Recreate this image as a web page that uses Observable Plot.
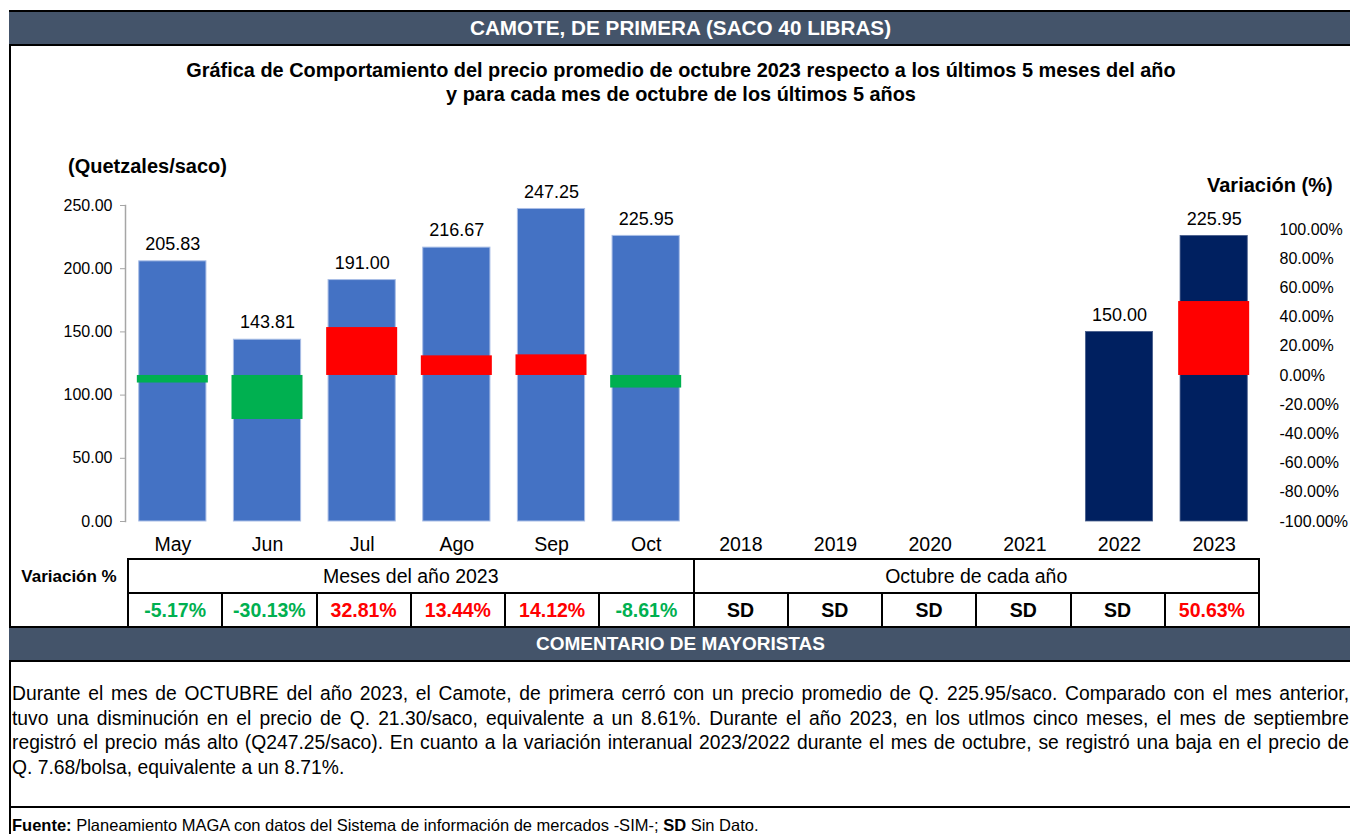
<!DOCTYPE html>
<html><head><meta charset="utf-8">
<script src="https://cdn.jsdelivr.net/npm/d3@7"></script>
<script src="https://cdn.jsdelivr.net/npm/@observablehq/plot@0.6"></script>
<style>
body{margin:0;background:#fff;font-family:"Liberation Sans",Arial,sans-serif;color:#000;}
#page{position:relative;width:1350px;height:834px;overflow:hidden;}
.abs{position:absolute;}
.bar{background:#44546A;color:#fff;font-weight:bold;text-align:center;border-top:2px solid #000;border-bottom:2px solid #000;}
#tbl{position:absolute;left:127px;top:558px;border-collapse:collapse;table-layout:fixed;width:1133px;}
#tbl td{border:2px solid #000;height:32px;line-height:32px;padding:0;text-align:center;font-size:19.5px;white-space:nowrap;overflow:hidden;}
#tbl tr.vals td{font-weight:bold;}
.cl{text-align:justify;text-align-last:justify;}
</style></head><body><div id="page"></div>
<script>
// ---------- data ----------
const months = ["May", "Jun", "Jul", "Ago", "Sep", "Oct"];
const monthPrices = [205.83, 143.81, 191.00, 216.67, 247.25, 225.95];
const monthVar = [-5.17, -30.13, 32.81, 13.44, 14.12, -8.61];
const years = ["2018", "2019", "2020", "2021", "2022", "2023"];
const yearPrices = [null, null, null, null, 150.00, 225.95];
const yearVar = [null, null, null, null, null, 50.63];
const priceTicks = [0, 50, 100, 150, 200, 250];
const varTicks = [-100, -80, -60, -40, -20, 0, 20, 40, 60, 80, 100];

const headerTitle = "CAMOTE, DE PRIMERA (SACO 40 LIBRAS)";
const chartTitle = ["Gráfica de Comportamiento del precio promedio de octubre 2023 respecto a los últimos 5 meses del año",
                    "y para cada mes de octubre de los últimos 5 años"];
const leftAxisTitle = "(Quetzales/saco)";
const rightAxisTitle = "Variación (%)";
const tableRowLabel = "Variación %";
const groupLabels = ["Meses del año 2023", "Octubre de cada año"];
const commentHeader = "COMENTARIO DE MAYORISTAS";
const commentLines = [
  "Durante el mes de OCTUBRE del año 2023, el Camote, de primera cerró con un precio promedio de Q. 225.95/saco. Comparado con el mes anterior,",
  "tuvo una disminución en el precio de Q. 21.30/saco, equivalente a un 8.61%. Durante el año 2023, en los utlmos cinco meses, el mes de septiembre",
  "registró el precio más alto (Q247.25/saco).  En cuanto a la variación interanual 2023/2022 durante el mes de octubre, se registró una baja en el precio de",
  "Q. 7.68/bolsa, equivalente a un 8.71%."
];

// ---------- derived ----------
const cats = [...months, ...years];
const monthData = months.map((c, i) => ({cat: c, price: monthPrices[i], v: monthVar[i]}));
const yearData = years.map((c, i) => ({cat: c, price: yearPrices[i], v: yearVar[i]}));
const allData = [...monthData, ...yearData];
const priceData = allData.filter(d => d.price != null);
const varData = allData.filter(d => d.v != null);

const page = document.getElementById("page");
function add(html) { const t = document.createElement("div"); t.innerHTML = html; const el = t.firstElementChild; page.appendChild(el); return el; }

// frame + header
add(`<div class="abs" style="left:9px;top:10px;width:2px;height:824px;background:#000"></div>`);
add(`<div class="abs bar" style="left:9px;top:10px;width:1343px;height:32px;line-height:32px;font-size:20.7px">${headerTitle}</div>`);
add(`<div class="abs" style="left:10px;top:58px;width:1342px;text-align:center;font-weight:bold;font-size:19.9px;line-height:24px">${chartTitle.join("<br>")}</div>`);
add(`<div class="abs" style="left:68px;top:154px;font-weight:bold;font-size:20px;line-height:24px">${leftAxisTitle}</div>`);
add(`<div class="abs" style="left:1207px;top:173px;font-weight:bold;font-size:20px;line-height:24px">${rightAxisTitle}</div>`);

// ---------- charts ----------
const W = 1350, H = 400;
const common = {
  width: W, height: H, marginLeft: 125, marginRight: 89, marginTop: 55, marginBottom: 29,
  style: {fontFamily: "Liberation Sans, Arial, sans-serif", background: "transparent", overflow: "visible", color: "#000"}
};
const fmt2 = d => d.toFixed(2);

const plotA = Plot.plot({
  ...common,
  x: {domain: cats, paddingInner: 0.29, paddingOuter: 0.145, round: false, label: null},
  y: {domain: [0, 250], label: null},
  marks: [
    Plot.barY(monthData, {x: "cat", y: "price", fill: "#4472C4", stroke: "#A9BEE6", strokeWidth: 1}),
    Plot.barY(yearData.filter(d => d.price != null), {x: "cat", y: "price", fill: "#002060", stroke: "#4A5F8C", strokeWidth: 0.8}),
    Plot.text(priceData, {x: "cat", y: "price", text: d => fmt2(d.price), dy: -17, fontSize: 18, fill: "#000"}),
    Plot.frame({anchor: "left", stroke: "#A6A6A6", strokeWidth: 1.5}),
    Plot.axisY({ticks: priceTicks, tickFormat: fmt2, tickSize: 5, tickPadding: 8, fontSize: 16, stroke: "#A6A6A6", label: null}),
    Plot.axisX({tickSize: 0, tickPadding: 16, fontSize: 19.5, label: null})
  ]
});

const plotB = Plot.plot({
  ...common,
  x: {domain: cats, paddingInner: 0.25, paddingOuter: 0.125, round: false, axis: null},
  y: {domain: [-100, 116.4], label: null},
  marks: [
    Plot.barY(varData.filter(d => d.v > 0), {x: "cat", y1: 0, y2: "v", fill: "#FF0000"}),
    Plot.barY(varData.filter(d => d.v < 0), {x: "cat", y1: 0, y2: "v", fill: "#00B050"}),
    Plot.axisY({anchor: "right", ticks: varTicks, tickFormat: d => d.toFixed(2) + "%", tickSize: 0, tickPadding: 18, fontSize: 16, label: null})
  ]
});

for (const p of [plotA, plotB]) {
  const wrap = document.createElement("div");
  wrap.className = "abs";
  wrap.style.cssText = "left:0;top:150px;width:1350px;height:400px;";
  wrap.appendChild(p);
  page.appendChild(wrap);
}

// ---------- table ----------
add(`<div class="abs" style="left:10px;top:565px;width:118px;text-align:center;font-weight:bold;font-size:17px;line-height:24px">${tableRowLabel}</div>`);
const fmtVar = v => v == null ? "SD" : v.toFixed(2) + "%";
const colVar = v => v == null ? "#000" : (v < 0 ? "#00B050" : "#FF0000");
const tbl = document.createElement("table");
tbl.id = "tbl";
tbl.innerHTML =
  `<tr><td colspan="6">${groupLabels[0]}</td><td colspan="6">${groupLabels[1]}</td></tr>` +
  `<tr class="vals">${allData.map(d => `<td style="color:${colVar(d.v)}">${fmtVar(d.v)}</td>`).join("")}</tr>`;
page.appendChild(tbl);

// ---------- comment ----------
add(`<div class="abs bar" style="left:9px;top:626px;width:1343px;height:32px;line-height:32px;font-size:19px">${commentHeader}</div>`);
add(`<div class="abs" style="left:12px;top:682px;width:1337px;font-size:19.3px;line-height:24.5px">${
  commentLines.map((l, i) => `<div class="${i < commentLines.length - 1 ? "cl" : ""}">${l}</div>`).join("")}</div>`);
add(`<div class="abs" style="left:9px;top:806px;width:1343px;height:2px;background:#000"></div>`);
add(`<div class="abs" style="left:12px;top:816px;font-size:16.5px;line-height:19px"><b>Fuente:</b> Planeamiento MAGA con datos del Sistema de información de mercados -SIM-; <b>SD</b> Sin Dato.</div>`);
</script>
</body></html>
